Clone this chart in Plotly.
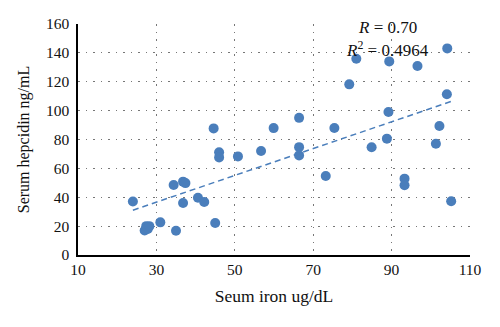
import numpy as np
import plotly.graph_objects as go

# Serum iron (ug/dL) and serum hepcidin (ng/mL) per subject
serum_iron = [24, 27, 27.4, 27.8, 28.2, 31, 35, 34.4, 36.8, 37.4, 36.8, 40.6, 42.2,
              45, 44.6, 46, 46, 50.8, 56.7, 59.9, 66.4, 66.4, 66.4, 73.2, 75.4,
              79.2, 81, 84.9, 88.8, 89.2, 89.4, 93.3, 93.3, 96.6, 101.3, 102.2,
              104.1, 104.2, 105.2]
serum_hepcidin = [37, 17, 20, 18, 20, 22.6, 16.8, 48.5, 50.8, 49.8, 36, 39.7, 36.7,
                  22.2, 87.7, 71.1, 67.6, 68.3, 72, 87.9, 95, 74.7, 69, 54.7, 88,
                  118.2, 135.9, 74.6, 80.6, 99, 134.1, 52.9, 48.3, 130.9, 77.1, 89.3,
                  111.3, 143.1, 37.2]

r_label = "<i>R</i> = 0.70"
r2_label = "<i>R</i><sup>2</sup> = 0.4964"

x_ticks = [10, 30, 50, 70, 90, 110]
y_ticks = [0, 20, 40, 60, 80, 100, 120, 140, 160]

blue = "#4a7ebb"
font_family = "Liberation Serif"

# least-squares trend line across the observed iron range
slope, intercept = np.polyfit(serum_iron, serum_hepcidin, 1)
fit_x = np.array([min(serum_iron), max(serum_iron)])
fit_y = slope * fit_x + intercept

fig = go.Figure()
fig.add_trace(go.Scatter(
    x=serum_iron, y=serum_hepcidin, mode="markers",
    marker=dict(color=blue, size=10, line=dict(width=0)),
    showlegend=False,
))
fig.add_trace(go.Scatter(
    x=fit_x, y=fit_y, mode="lines",
    line=dict(color=blue, width=1.5, dash="6px,4px"),
    showlegend=False,
))

fig.add_annotation(x=0.79, y=0.985, xref="paper", yref="paper", text=r_label,
                   showarrow=False, xanchor="center", yanchor="middle",
                   font=dict(family=font_family, size=17, color="#111111"))
fig.add_annotation(x=0.79, y=0.89, xref="paper", yref="paper", text=r2_label,
                   showarrow=False, xanchor="center", yanchor="middle",
                   font=dict(family=font_family, size=17, color="#111111"))

fig.update_layout(
    width=500, height=327,
    margin=dict(l=78, r=30, t=24, b=72),
    paper_bgcolor="white", plot_bgcolor="white",
    font=dict(family=font_family, size=15.5, color="#111111"),
)
fig.update_xaxes(
    range=[10, 110], tickvals=x_ticks, ticks="",
    showline=True, linecolor="black", linewidth=1.5,
    showgrid=True, gridcolor="#777777", gridwidth=1, griddash="1.5px,6px",
    zeroline=False,
    title=dict(text="Seum iron ug/dL", standoff=12, font=dict(size=17.5)),
)
fig.update_yaxes(
    range=[0, 160], tickvals=y_ticks, ticks="",
    showline=True, linecolor="black", linewidth=1.5,
    showgrid=True, gridcolor="#777777", gridwidth=1, griddash="1.5px,6px",
    zeroline=False, ticklabelstandoff=4,
    title=dict(text="Serum hepcidin ng/mL", standoff=12, font=dict(size=16)),
)

fig.write_html("out.html")
